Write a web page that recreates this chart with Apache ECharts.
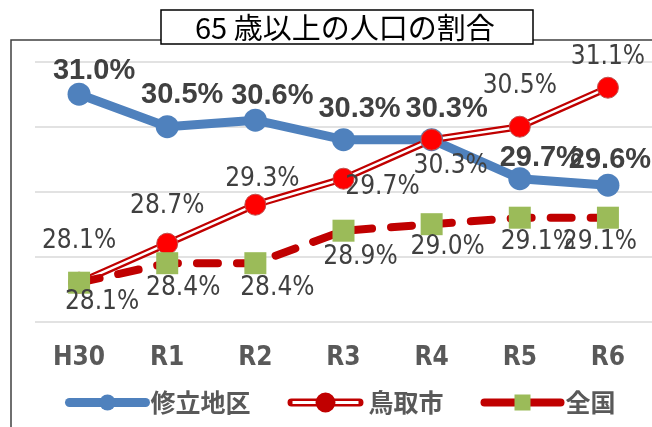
<!DOCTYPE html>
<html>
<head>
<meta charset="utf-8">
<script src="https://cdn.jsdelivr.net/npm/echarts@6/dist/echarts.min.js"></script>
<style>
html, body { margin: 0; padding: 0; background: #fff; }
#chart { width: 652px; height: 427px; }
</style>
</head>
<body>
<div id="chart"></div>
<script>
// 年度
const years = ['H30', 'R1', 'R2', 'R3', 'R4', 'R5', 'R6'];
// 65歳以上の人口の割合（%）
const shuritsu = [31.0, 30.5, 30.6, 30.3, 30.3, 29.7, 29.6]; // 修立地区
const tottori = [28.1, 28.7, 29.3, 29.7, 30.3, 30.5, 31.1];  // 鳥取市
const zenkoku = [28.1, 28.4, 28.4, 28.9, 29.0, 29.1, 29.1];  // 全国

// ラベル位置の調整（マーカー中心からのずれ px）
const shuritsuLabelOffset = [[15, -23], [15, -32], [17, -24], [16, -31], [15, -31], [21, -21], [2, -25]];
const tottoriLabelOffset = [[0, -41], [0, -37], [7, -25], [39, 9], [19, 27], [0, -40], [0, -30]];
const zenkokuLabelOffset = [[23, 20], [16, 25], [22, 25], [17, 27], [16, 23], [18, 25], [-8, 25]];

var chart = echarts.init(document.getElementById('chart'));

// 細めのフォント
var narrowFont = "'Liberation Sans Narrow', 'DejaVu Sans Condensed', sans-serif";

function pct(p) {
  return p.value.toFixed(1) + '%';
}
function withOffset(values, offsets) {
  return values.map(function (v, i) {
    return { value: v, label: { offset: offsets[i] } };
  });
}

// 凡例：二重線＋丸（鳥取市）
const redIcon = 'path://M4,6L72,6A4,4 0 0 1 72,14L4,14A4,4 0 0 1 4,6Z' +
  'M5,8.5L5,11.5L71,11.5L71,8.5Z' +
  'M28,10A10,10 0 1 1 48,10A10,10 0 1 1 28,10Z';

const narrowLabel = {
  show: true,
  position: 'inside',
  formatter: pct,
  fontFamily: narrowFont,
  fontSize: 26,
  color: '#404040'
};

const option = {
  animation: false,
  backgroundColor: '#fff',
  title: {
    text: '65 歳以上の人口の割合',
    left: 161,
    top: 10,
    padding: [2, 39, 1, 34],
    borderColor: '#000',
    borderWidth: 1.5,
    backgroundColor: '#fff',
    textStyle: {
      fontFamily: 'Noto Sans CJK JP',
      fontSize: 29,
      fontWeight: 'normal',
      color: '#000',
      lineHeight: 31
    }
  },
  graphic: [
    {
      type: 'rect',
      z: 0,
      silent: true,
      shape: { x: 11, y: 40, width: 700, height: 450 },
      style: { fill: 'none', stroke: '#404040', lineWidth: 1.5 }
    }
  ],
  legend: {
    left: 65,
    top: 390,
    padding: 0,
    itemGap: 37,
    itemWidth: 76,
    itemHeight: 20,
    textStyle: {
      fontFamily: 'Noto Sans CJK JP',
      fontWeight: 'bold',
      fontSize: 25,
      color: '#595959'
    },
    data: [
      { name: '修立地区', lineStyle: { width: 9, cap: 'round' } },
      { name: '鳥取市', icon: redIcon, itemStyle: { color: '#c00000', borderWidth: 0 } },
      { name: '全国', lineStyle: { width: 8, type: 'solid', cap: 'round' } }
    ]
  },
  grid: {
    left: 35,
    right: 0,
    top: 61.7,
    bottom: 105.3,
    containLabel: false
  },
  xAxis: {
    type: 'category',
    data: years,
    boundaryGap: true,
    axisLine: { show: false },
    axisTick: { show: false },
    axisLabel: {
      margin: 24,
      fontFamily: narrowFont,
      fontWeight: 'bold',
      fontSize: 26,
      color: '#595959'
    }
  },
  yAxis: {
    type: 'value',
    min: 27.5,
    max: 31.5,
    interval: 0.5,
    axisLine: { show: false },
    axisTick: { show: false },
    axisLabel: { show: false },
    splitLine: {
      show: true,
      // 1%ごとに線を引く（0.5%の位置は透明）
      lineStyle: { color: ['#d9d9d9', 'rgba(0,0,0,0)'], width: 1.5 }
    }
  },
  series: [
    {
      name: '修立地区',
      type: 'line',
      data: withOffset(shuritsu, shuritsuLabelOffset),
      symbol: 'circle',
      symbolSize: 23,
      lineStyle: { color: '#4f81bd', width: 9 },
      itemStyle: { color: '#4f81bd' },
      label: {
        show: true,
        position: 'inside',
        formatter: pct,
        fontFamily: 'Liberation Sans',
        fontWeight: 'bold',
        fontSize: 29,
        color: '#404040'
      }
    },
    {
      name: '鳥取市_外線',
      type: 'line',
      data: tottori,
      symbol: 'none',
      silent: true,
      lineStyle: { color: '#c00000', width: 7 }
    },
    {
      name: '鳥取市_内線',
      type: 'line',
      data: tottori,
      symbol: 'none',
      silent: true,
      lineStyle: { color: '#fff', width: 2.5 }
    },
    {
      name: '鳥取市',
      type: 'line',
      data: withOffset(tottori, tottoriLabelOffset),
      symbol: 'circle',
      symbolSize: 21,
      lineStyle: { width: 0, opacity: 0 },
      itemStyle: { color: '#ff0000', borderColor: '#c0504d', borderWidth: 1 },
      label: narrowLabel
    },
    {
      name: '全国',
      type: 'line',
      data: withOffset(zenkoku, zenkokuLabelOffset),
      symbol: 'rect',
      symbolSize: 22,
      lineStyle: { color: '#c00000', width: 8, type: [21, 19], cap: 'round' },
      itemStyle: { color: '#9bbb59' },
      label: narrowLabel
    }
  ]
};

chart.setOption(option);
</script>
</body>
</html>
